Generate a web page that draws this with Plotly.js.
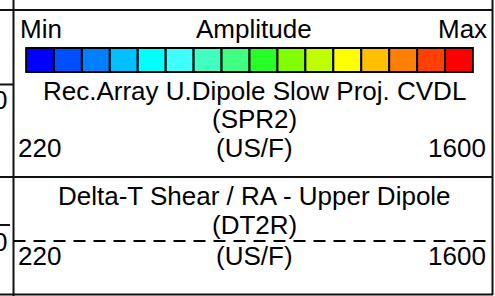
<!DOCTYPE html>
<html><head><meta charset="utf-8">
<script src="https://cdn.plot.ly/plotly-3.0.1.min.js"></script>
<style>html,body{margin:0;padding:0;background:#fff}#chart{width:495px;height:296px}</style>
</head><body><div id="chart"></div>
<script>
// ---- data ----
var ampLabels = ['Min', 'Amplitude', 'Max'];
var ampLevels = [0, 1, 2, 3, 4, 5, 6, 7, 8, 9, 10, 11, 12, 13, 14, 15];
var ampColors = ['#0000ff', '#0050ff', '#0080ff', '#00c0ff', '#00ffff', '#40ffff', '#40ffc0', '#40ff80',
                 '#28ff28', '#80ff00', '#c0ff00', '#ffff00', '#ffc000', '#ff8000', '#ff4000', '#ff0000'];
var curve1Name = 'Rec.Array U.Dipole Slow Proj. CVDL';
var curve1Mnem = '(SPR2)';
var curve2Name = 'Delta-T Shear / RA - Upper Dipole';
var curve2Mnem = '(DT2R)';
var curveUnit = '(US/F)';
var scaleMin = 220;
var scaleMax = 1600;
var depthLabels = ['0', '0'];

// ---- helpers (pixel -> paper) ----
var W = 495, H = 296;
function px(x) { return x / W; }
function py(y) { return 1 - y / H; }

var font = 'Liberation Sans, Arial, sans-serif';
var fs = 26;

var traces = [];
// colour bar cells
traces.push({
  type: 'bar', x: ampLevels, y: ampLevels.map(function () { return 1; }),
  width: 1, marker: { color: ampColors, line: { color: '#000', width: 2 } },
  xaxis: 'x2', yaxis: 'y2', hoverinfo: 'skip', showlegend: false
});
// dashed curve legend line for DT2R
traces.push({
  type: 'scatter', mode: 'lines', x: [scaleMin, scaleMax], y: [241, 241],
  line: { color: '#000', width: 2, dash: '12px,8px' },
  xaxis: 'x', yaxis: 'y', hoverinfo: 'skip', showlegend: false, cliponaxis: false
});

var barL = 26, barR = 473, barT = 48, barB = 72;
var padX = 0.03, padY = 0.06;
var cellW = (barR - barL) / ampLevels.length;

var shapes = [];
function hline(y, x0, x1, w) {
  shapes.push({ type: 'line', xref: 'paper', yref: 'paper', x0: px(x0), x1: px(x1), y0: py(y), y1: py(y),
    line: { color: '#111', width: w || 2 } });
}
function vline(x, y0, y1, w) {
  shapes.push({ type: 'line', xref: 'paper', yref: 'paper', x0: px(x), x1: px(x), y0: py(y0), y1: py(y1),
    line: { color: '#111', width: w || 2 } });
}
hline(10, 0, 493);
hline(177, 0, 493);
hline(294.5, 0, 493);
hline(84.5, 0, 13.5);
hline(225, 0, 10);
vline(13.5, 0, 296);
vline(492.5, 0, 295);

var ann = [];
function t(text, x, y, xa) {
  ann.push({ text: text, xref: 'paper', yref: 'paper', x: px(x), y: py(y), xanchor: xa, yanchor: 'middle',
    showarrow: false, font: { family: font, size: fs, color: '#000' } });
}
var cx = 254;
t(ampLabels[0], 18, 29, 'left');
t(ampLabels[1], cx, 29, 'center');
t(ampLabels[2], 489, 29, 'right');
t(curve1Name, cx, 91, 'center');
t(curve1Mnem, cx, 119, 'center');
t(String(scaleMin), 16, 148, 'left');
t(curveUnit, cx, 148, 'center');
t(String(scaleMax), 488, 148, 'right');
t(curve2Name, cx, 196, 'center');
t(curve2Mnem, cx, 225, 'center');
t(String(scaleMin), 16, 256, 'left');
t(curveUnit, cx, 256, 'center');
t(String(scaleMax), 488, 256, 'right');
t(depthLabels[0], 9, 100, 'right');
t(depthLabels[1], 9, 242, 'right');

var layout = {
  width: W, height: H, margin: { l: 0, r: 0, t: 0, b: 0 },
  paper_bgcolor: '#fff', plot_bgcolor: 'rgba(0,0,0,0)', showlegend: false,
  xaxis: { domain: [px(13.5), px(492.5)], range: [scaleMin, scaleMax], visible: false, fixedrange: true },
  yaxis: { domain: [0, 1], range: [H, 0], visible: false, fixedrange: true },
  xaxis2: { domain: [px(barL - padX * cellW), px(barR + padX * cellW)], range: [-0.5 - padX, ampLevels.length - 0.5 + padX],
    visible: false, fixedrange: true, anchor: 'y2' },
  yaxis2: { domain: [py(barB + padY * (barB - barT)), py(barT - padY * (barB - barT))], range: [-padY, 1 + padY],
    visible: false, fixedrange: true, anchor: 'x2' },
  shapes: shapes, annotations: ann, bargap: 0
};
Plotly.newPlot('chart', traces, layout, { staticPlot: true, displayModeBar: false });
</script></body></html>
